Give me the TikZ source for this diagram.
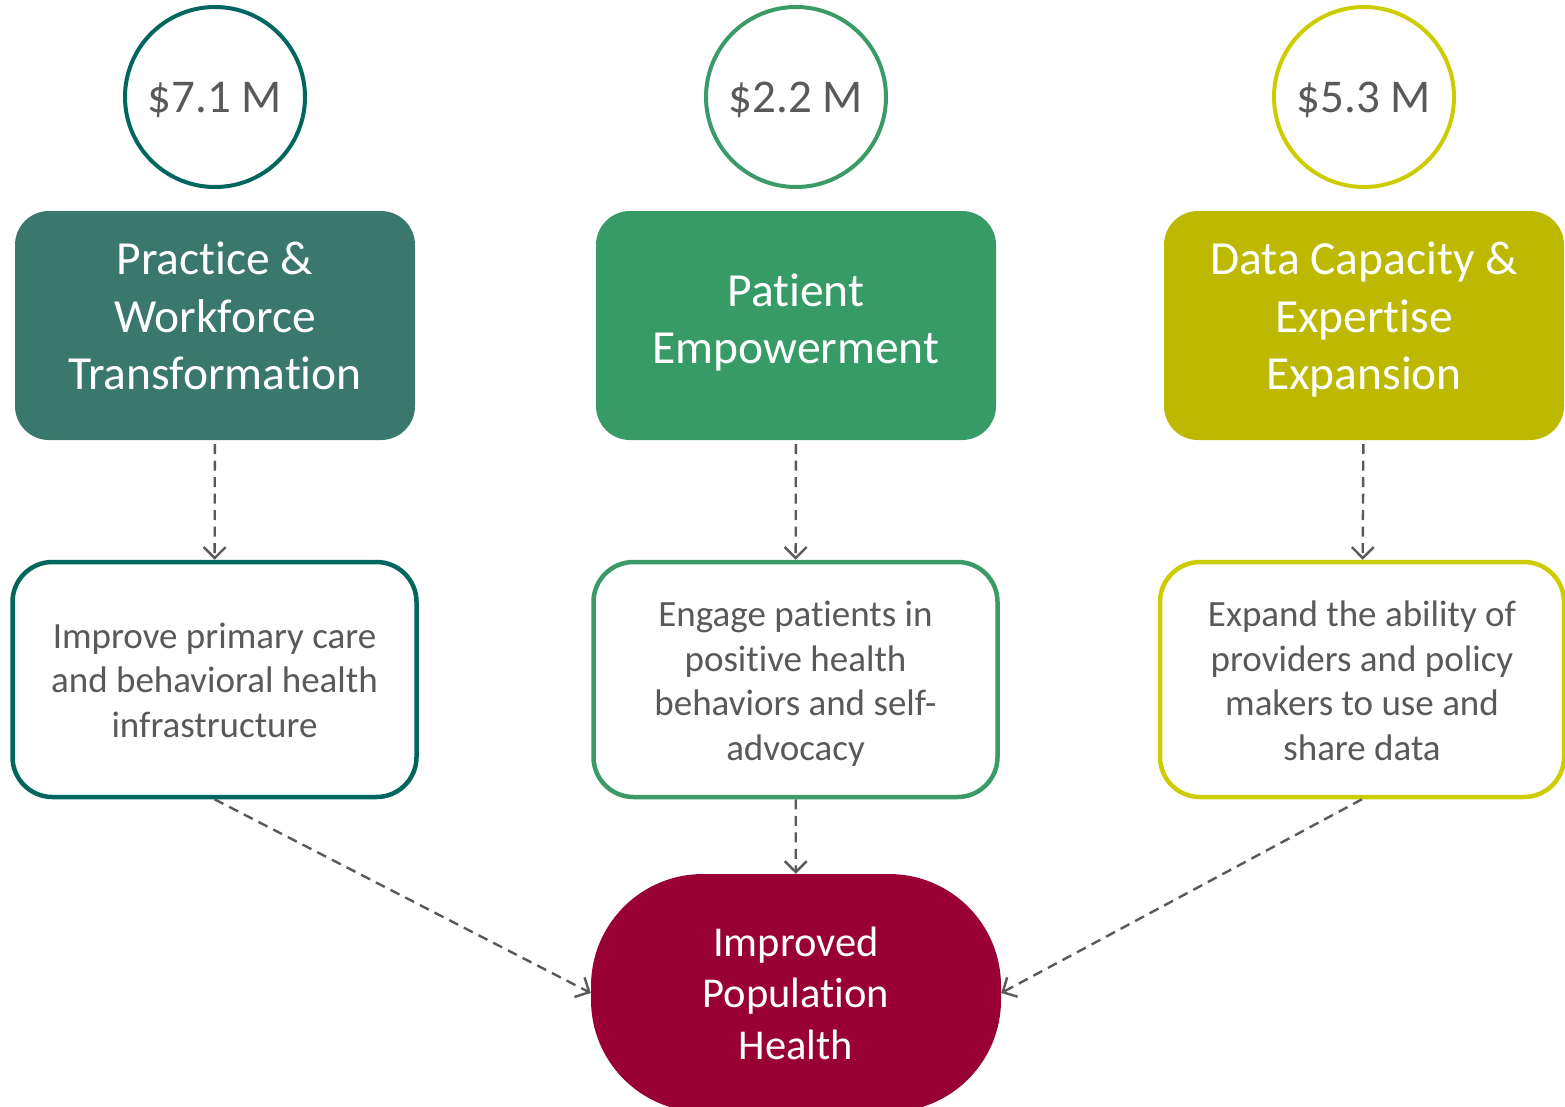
\documentclass[tikz,border=0pt]{standalone}
\usepackage{fontspec}
\setmainfont{Carlito}[Ligatures={NoCommon,NoContextual,NoRequired}]
\usetikzlibrary{arrows.meta}
\definecolor{cA}{HTML}{00665E}
\definecolor{fA}{HTML}{3A786D}
\definecolor{cB}{HTML}{3A9B68}
\definecolor{fB}{HTML}{379B66}
\definecolor{cC}{HTML}{CCCC00}
\definecolor{fC}{HTML}{BDB800}
\definecolor{popc}{HTML}{990033}
\definecolor{txtgray}{HTML}{595959}
\newcommand\liftlines[2]{\raisebox{#1}[\height][\depth]{\begin{tabular}{@{}c@{}}#2\end{tabular}}}
\tikzset{
  money/.style={circle, draw, line width=4pt, minimum size=180pt, inner sep=0pt, text=txtgray, font=\fontsize{47}{55}\selectfont},
  hdr/.style={rectangle, rounded corners=34pt, minimum width=400pt, minimum height=229pt, inner sep=0pt, text=white, align=center, font=\fontsize{47.5}{57.5}\selectfont},
  low/.style={rectangle, rounded corners=40pt, line width=4.5pt, fill=white, minimum width=404pt, minimum height=235pt, inner sep=0pt, text=txtgray, align=center, font=\fontsize{37}{44.7}\selectfont},
  popnode/.style={rectangle, rounded corners=112pt, fill=popc, minimum width=410pt, minimum height=238pt, inner sep=0pt, text=white, align=center, font=\fontsize{42.5}{51.5}\selectfont},
  arr/.style={draw=txtgray, line width=2.4pt, dash pattern=on 10pt off 6.5pt, -{Straight Barb[length=11pt, width=22pt, line width=2.4pt]}}
}
\begin{document}
\begin{tikzpicture}[x=1pt,y=-1pt]
\useasboundingbox (0,0) rectangle (1565,1106);
\clip (0,0) rectangle (1565,1106);
\node[money, draw=cA] (m1) at (215,97) {\raisebox{-3pt}[\height][\depth]{\$7.1 M}};
\node[money, draw=cB] (m2) at (796,97) {\raisebox{-3pt}[\height][\depth]{\$2.2 M}};
\node[money, draw=cC] (m3) at (1364,97) {\raisebox{-3pt}[\height][\depth]{\$5.3 M}};

\node[hdr, fill=fA] (h1) at (215,325.5) {\liftlines{5pt}{Practice \&\\Workforce\\Transformation}};
\node[hdr, fill=fB] (h2) at (796,325.5) {\liftlines{2pt}{Patient\\Empowerment}};
\node[hdr, fill=fC] (h3) at (1364,325.5) {\liftlines{5pt}{Data Capacity \&\\Expertise\\Expansion}};

\node[low, draw=cA] (l1) at (214.5,679.5) {\liftlines{-4.5pt}{Improve primary care\\and behavioral health\\infrastructure}};
\node[low, draw=cB] (l2) at (795.5,679.5) {\liftlines{-5pt}{Engage patients in\\positive health\\behaviors and self-\\advocacy}};
\node[low, draw=cC] (l3) at (1362,679.5) {\liftlines{-5pt}{Expand the ability of\\providers and policy\\makers to use and\\share data}};

\node[popnode] (pop) at (796,993) {Improved\\Population\\Health};

\draw[arr, shorten <=4pt] (h1) -- (l1);
\draw[arr, shorten <=4pt] (h2) -- (l2);
\draw[arr, shorten <=4pt] (h3) -- (l3);
\draw[arr] (l2) -- (pop);
\draw[arr] (l1.south) -- (pop.west);
\draw[arr] (l3.south) -- (pop.east);
\end{tikzpicture}
\end{document}
